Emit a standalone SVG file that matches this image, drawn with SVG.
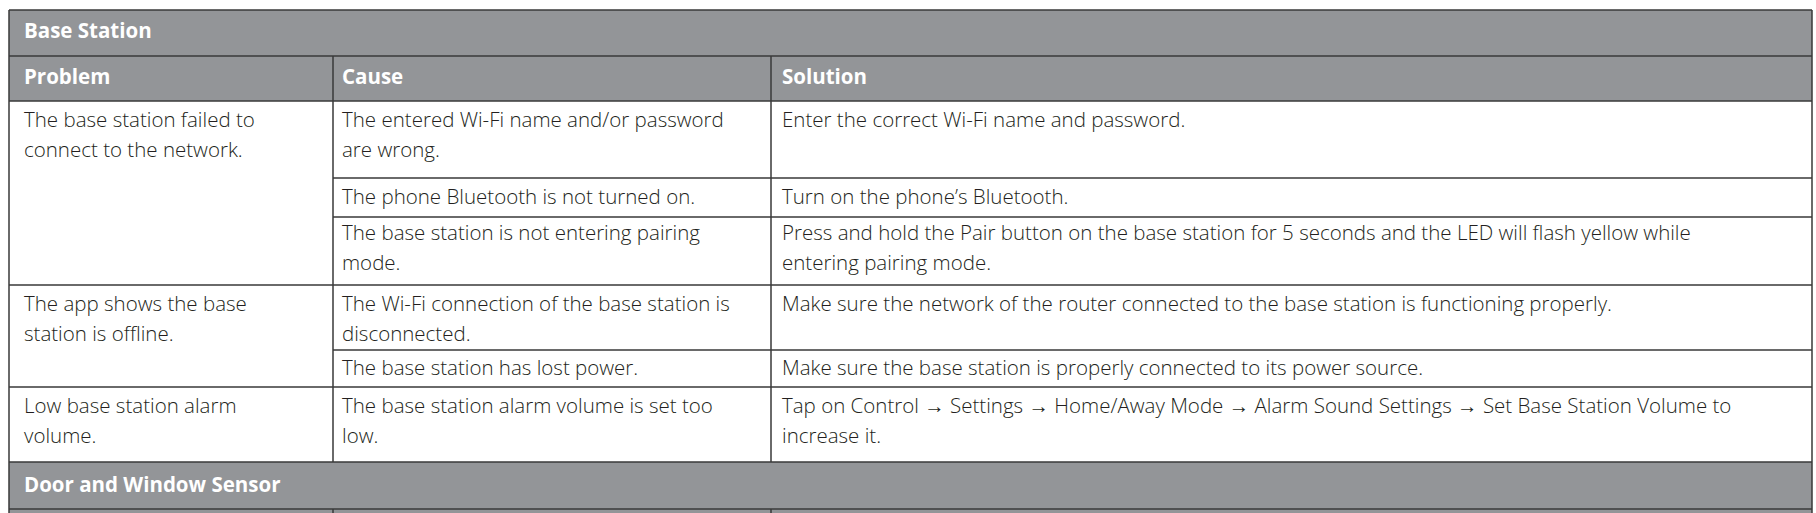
<svg xmlns="http://www.w3.org/2000/svg" width="1816" height="513" viewBox="0 0 1816 513">
<style>
.h{fill:#939598}
.ln{stroke:#3a3a3a;stroke-width:1.5;fill:none}
.t{font-family:"Open Sans","Liberation Sans",sans-serif;font-size:20.5px;font-weight:300;fill:#231f20}
.b{font-family:"Open Sans","Liberation Sans",sans-serif;font-size:20.5px;font-weight:700;fill:#ffffff}
</style>
<rect width="1816" height="513" fill="#ffffff"/>
<g id="headers">
<rect class="h" x="9" y="10" width="1803" height="91"/>
<rect class="h" x="9" y="462" width="1803" height="51"/>
<text class="b" x="24" y="38">Base Station</text>
<text class="b" x="24" y="84">Problem</text>
<text class="b" x="342" y="84">Cause</text>
<text class="b" x="782" y="84">Solution</text>
<text class="b" x="24" y="492">Door and Window Sensor</text>
</g>
<g id="grid">
<path class="ln" d="M9 10H1812M9 56H1812M9 101H1812M333 178H1812M333 217H1812M9 285H1812M333 350H1812M9 387H1812M9 462H1812M9 509H1812"/>
<path class="ln" d="M9 10V513M1812 10V513M333 56V462M771 56V462M333 509V513M771 509V513"/>
</g>
<g id="row1">
<text class="t" x="24" y="127">The base station failed to</text>
<text class="t" x="24" y="157">connect to the network.</text>
<text class="t" x="342" y="127">The entered Wi-Fi name and/or password</text>
<text class="t" x="342" y="157">are wrong.</text>
<text class="t" x="782" y="127">Enter the correct Wi-Fi name and password.</text>
<text class="t" x="342" y="204">The phone Bluetooth is not turned on.</text>
<text class="t" x="782" y="204">Turn on the phone’s Bluetooth.</text>
<text class="t" x="342" y="240">The base station is not entering pairing</text>
<text class="t" x="342" y="270">mode.</text>
<text class="t" x="782" y="240">Press and hold the Pair button on the base station for 5 seconds and the LED will flash yellow while</text>
<text class="t" x="782" y="270">entering pairing mode.</text>
</g>
<g id="row2">
<text class="t" x="24" y="311">The app shows the base</text>
<text class="t" x="24" y="341">station is offline.</text>
<text class="t" x="342" y="311">The Wi-Fi connection of the base station is</text>
<text class="t" x="342" y="341">disconnected.</text>
<text class="t" x="782" y="311">Make sure the network of the router connected to the base station is functioning properly.</text>
<text class="t" x="342" y="375">The base station has lost power.</text>
<text class="t" x="782" y="375">Make sure the base station is properly connected to its power source.</text>
</g>
<g id="row3">
<text class="t" x="24" y="413">Low base station alarm</text>
<text class="t" x="24" y="443">volume.</text>
<text class="t" x="342" y="413">The base station alarm volume is set too</text>
<text class="t" x="342" y="443">low.</text>
<text class="t" x="782" y="413">Tap on Control → Settings → Home/Away Mode → Alarm Sound Settings → Set Base Station Volume to</text>
<text class="t" x="782" y="443">increase it.</text>
</g>
</svg>
